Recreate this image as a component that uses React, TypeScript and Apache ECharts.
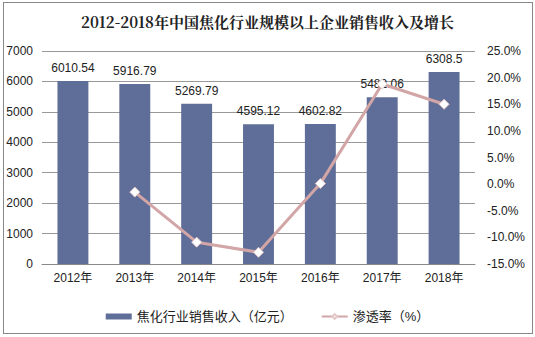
import React, { useEffect, useRef } from "react";
import * as echarts from "echarts";

const categories = ["2012年", "2013年", "2014年", "2015年", "2016年", "2017年", "2018年"];
const revenue = [6010.54, 5916.79, 5269.79, 4595.12, 4602.82, 5482.06, 6308.5];
const rate = [null, -1.5, -10.9, -12.8, 0.1, 18.8, 15.0];
const titleText = "2012-2018年中国焦化行业规模以上企业销售收入及增长";
const barName = "焦化行业销售收入（亿元）";
const lineName = "渗透率（%）";

export default function App() {
  const ref = useRef<HTMLDivElement>(null);
  useEffect(() => {
    document.body.style.margin = "0";
    const chart = echarts.init(ref.current!, null, { renderer: "svg" });
    const font = "Liberation Sans, Arial, Noto Sans CJK SC, sans-serif";
    chart.setOption({
      animation: false,
      backgroundColor: "#fff",
      textStyle: { fontFamily: font },
      title: {
        text: titleText,
        left: "center",
        top: 9,
        textStyle: { fontSize: 15, fontWeight: "bold", color: "#222", fontFamily: "Noto Serif CJK SC, Noto Sans CJK SC, serif" },
      },
      legend: {
        bottom: 9,
        left: "center",
        itemGap: 28,
        textStyle: { fontSize: 13, color: "#222", fontFamily: font },
        data: [
          { name: barName, icon: "rect", itemStyle: { color: "#5F6E99" } },
          { name: lineName },
        ],
        itemWidth: 26,
        itemHeight: 6,
      },
      grid: { left: 42, right: 60, top: 51, bottom: 73, containLabel: false },
      xAxis: {
        type: "category",
        data: categories,
        axisLine: { lineStyle: { color: "#888" } },
        axisTick: { lineStyle: { color: "#888" }, length: 4 },
        axisLabel: { color: "#222", fontSize: 12, margin: 8 },
      },
      yAxis: [
        {
          type: "value",
          min: 0,
          max: 7000,
          interval: 1000,
          axisLine: { show: false },
          axisTick: { show: false },
          axisLabel: { color: "#222", fontSize: 12, margin: 9, formatter: (v: number) => String(v) },
          splitLine: { lineStyle: { color: "#999" } },
        },
        {
          type: "value",
          min: -15,
          max: 25,
          interval: 5,
          axisLine: { show: false },
          axisTick: { show: false },
          axisLabel: { color: "#222", fontSize: 12, margin: 12, formatter: (v: number) => v.toFixed(1) + "%" },
          splitLine: { show: false },
        },
      ],
      series: [
        {
          name: barName,
          type: "bar",
          data: revenue,
          barWidth: "50%",
          itemStyle: { color: "#5F6E99" },
          label: { show: true, position: "top", distance: 7, color: "#222", fontSize: 12, fontFamily: font },
        },
        {
          name: lineName,
          type: "line",
          yAxisIndex: 1,
          data: rate,
          symbol: "diamond",
          symbolSize: 10,
          showAllSymbol: true,
          connectNulls: false,
          lineStyle: { color: "#D2A5A6", width: 3 },
          itemStyle: { color: "#FFFFFF", borderColor: "#E3C8C9", borderWidth: 1 },
        },
      ],
    });
    return () => chart.dispose();
  }, []);
  return (
    <div style={{ position: "fixed", left: 0, top: 0, width: 535, height: 337, background: "#fff" }}>
      <div ref={ref} style={{ position: "absolute", left: 0, top: 0, width: 535, height: 337 }} />
      <div style={{ position: "absolute", left: 3, top: 2, width: 528, height: 330, border: "1px solid #888", pointerEvents: "none" }} />
    </div>
  );
}
